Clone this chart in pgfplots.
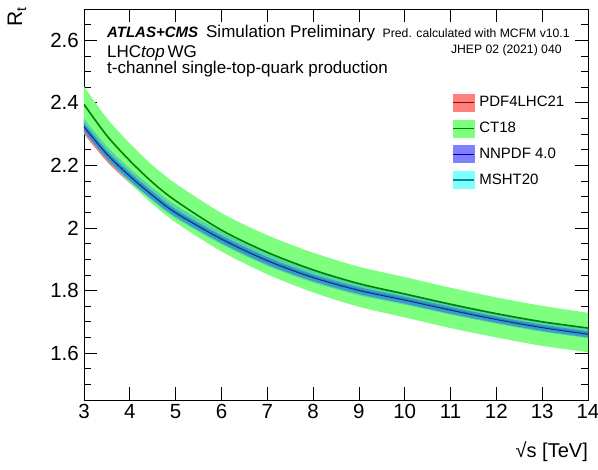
\documentclass[border=0pt]{standalone}
\usepackage{fontspec}
\setmainfont{Liberation Sans}
\usepackage{pgfplots}
\usepackage{pgfplotstable}
\usepgfplotslibrary{fillbetween}
\pgfplotsset{compat=1.18}

\definecolor{pdfFill}{HTML}{FF7F7F}
\definecolor{pdfLine}{HTML}{A00000}
\definecolor{ctFill}{HTML}{7FFF7F}
\definecolor{ctLine}{HTML}{008000}
\definecolor{nnFill}{HTML}{7F7FFF}
\definecolor{nnLine}{HTML}{0000A0}
\definecolor{msFill}{HTML}{7FFFFF}
\definecolor{msLine}{HTML}{009090}
\definecolor{msBand}{HTML}{30B8C0}
\definecolor{nnBand}{HTML}{2070E8}

\pgfplotstableread{
x c lo hi
3 2.325 2.300 2.350
3.5 2.237 2.212 2.262
4 2.167 2.143 2.191
4.5 2.105 2.081 2.129
5 2.050 2.026 2.074
6 1.966 1.943 1.989
7 1.897 1.874 1.920
8 1.843 1.821 1.865
9 1.802 1.780 1.824
10 1.771 1.750 1.792
11 1.739 1.718 1.760
12 1.709 1.689 1.729
13 1.683 1.664 1.702
14 1.662 1.643 1.681
}\pdftab

\pgfplotstableread{
x c lo hi
3 2.395 2.322 2.452
3.5 2.295 2.224 2.351
4 2.215 2.145 2.270
4.5 2.145 2.076 2.200
5 2.087 2.018 2.142
6 1.993 1.925 2.048
7 1.922 1.852 1.977
8 1.866 1.794 1.921
9 1.822 1.748 1.876
10 1.789 1.714 1.843
11 1.756 1.680 1.809
12 1.726 1.650 1.778
13 1.700 1.623 1.751
14 1.680 1.603 1.729
}\cttab

\pgfplotstableread{
x c lo hi
3 2.323 2.310 2.336
3.5 2.235 2.222 2.248
4 2.165 2.152 2.178
4.5 2.103 2.090 2.116
5 2.048 2.036 2.060
6 1.964 1.952 1.976
7 1.895 1.883 1.907
8 1.841 1.830 1.852
9 1.800 1.789 1.811
10 1.769 1.758 1.780
11 1.737 1.726 1.748
12 1.707 1.697 1.717
13 1.681 1.671 1.691
14 1.660 1.650 1.670
}\nntab

\pgfplotstableread{
x c lo hi
3 2.327 2.305 2.349
3.5 2.239 2.217 2.261
4 2.169 2.148 2.190
4.5 2.107 2.086 2.128
5 2.052 2.031 2.073
6 1.968 1.948 1.988
7 1.899 1.879 1.919
8 1.845 1.826 1.864
9 1.804 1.785 1.823
10 1.773 1.755 1.791
11 1.741 1.723 1.759
12 1.711 1.694 1.728
13 1.685 1.668 1.702
14 1.664 1.648 1.680
}\mstab

\begin{document}
\begin{tikzpicture}
\begin{axis}[
  scale only axis, width=504pt, height=391pt,
  xmin=3, xmax=14, ymin=1.45, ymax=2.7,
  xtick={3,4,5,6,7,8,9,10,11,12,13,14},
  ytick={1.6,1.8,2,2.2,2.4,2.6},
  minor ytick={1.45,1.5,1.55,1.65,1.7,1.75,1.85,1.9,1.95,2.05,2.1,2.15,2.25,2.3,2.35,2.45,2.5,2.55,2.65,2.7},
  tick align=inside,
  xtick pos=both, ytick pos=both,
  major tick length=13pt, minor tick length=7pt,
  every tick/.style={black, line width=0.7pt},
  axis line style={line width=0.8pt},
  /pgf/number format/assume math mode=true,
  ticklabel style={font=\fontsize{20.5}{24}\selectfont},
  yticklabel style={inner sep=0pt, anchor=east, xshift=-5pt},
  xticklabel style={inner sep=0pt, anchor=north, yshift=-4pt},
  xlabel={\fontsize{20}{24}\selectfont √s [TeV]},
  xlabel style={at={(axis description cs:1,-0.133)}, anchor=east, inner sep=0pt},
  ylabel={\fontsize{21}{24}\selectfont R\raisebox{-0.35ex}{\fontsize{14}{16}\selectfont t}},
  ylabel style={at={(axis description cs:-0.133,1.005)}, anchor=east, inner sep=0pt, rotate=0},
  legend style={at={(axis description cs:0.730,0.784)}, anchor=north west, draw=none, fill=none,
    inner sep=0pt, row sep=8.5pt, column sep=5pt, font=\fontsize{15}{18}\selectfont,
    nodes={inner sep=0pt}},
  legend cell align=left,
]
% PDF4LHC21 band
\addplot[name path=pdflo, draw=none, forget plot, smooth] table[x=x,y=lo]{\pdftab};
\addplot[name path=pdfhi, draw=none, forget plot, smooth] table[x=x,y=hi]{\pdftab};
\addplot[pdfFill, forget plot] fill between[of=pdflo and pdfhi];
% CT18 band
\addplot[name path=ctlo, draw=none, forget plot, smooth] table[x=x,y=lo]{\cttab};
\addplot[name path=cthi, draw=none, forget plot, smooth] table[x=x,y=hi]{\cttab};
\addplot[ctFill, forget plot] fill between[of=ctlo and cthi];
% MSHT20 band
\addplot[name path=mslo, draw=none, forget plot, smooth] table[x=x,y=lo]{\mstab};
\addplot[name path=mshi, draw=none, forget plot, smooth] table[x=x,y=hi]{\mstab};
\addplot[msBand, fill opacity=0.55, forget plot] fill between[of=mslo and mshi];
% NNPDF band
\addplot[name path=nnlo, draw=none, forget plot, smooth] table[x=x,y=lo]{\nntab};
\addplot[name path=nnhi, draw=none, forget plot, smooth] table[x=x,y=hi]{\nntab};
\addplot[nnBand, fill opacity=0.55, forget plot] fill between[of=nnlo and nnhi];
% central lines
\addplot[pdfLine, line width=0.6pt, smooth, opacity=0.4, forget plot] table[x=x,y=c]{\pdftab};
\addplot[msLine, line width=0.7pt, smooth, opacity=0.7, forget plot] table[x=x,y=c]{\mstab};
\addplot[nnLine, line width=0.8pt, smooth, opacity=0.8, forget plot] table[x=x,y=c]{\nntab};
\addplot[ctLine, line width=1.6pt, smooth, forget plot] table[x=x,y=c]{\cttab};

\addlegendimage{legend image code/.code={\fill[pdfFill] (0pt,-8.5pt) rectangle (21pt,8.5pt); \draw[pdfLine, line width=1.2pt] (0pt,0pt) -- (21pt,0pt);}}
\addlegendentry{PDF4LHC21}
\addlegendimage{legend image code/.code={\fill[ctFill] (0pt,-8.5pt) rectangle (21pt,8.5pt); \draw[ctLine, line width=1.2pt] (0pt,0pt) -- (21pt,0pt);}}
\addlegendentry{CT18}
\addlegendimage{legend image code/.code={\fill[nnFill] (0pt,-8.5pt) rectangle (21pt,8.5pt); \draw[nnLine, line width=1.2pt] (0pt,0pt) -- (21pt,0pt);}}
\addlegendentry{NNPDF 4.0}
\addlegendimage{legend image code/.code={\fill[msFill] (0pt,-8.5pt) rectangle (21pt,8.5pt); \draw[msLine, line width=1.2pt] (0pt,0pt) -- (21pt,0pt);}}
\addlegendentry{MSHT20}

\node[anchor=base west, inner sep=0pt] at (axis description cs:0.0456,0.928)
  {{\fontsize{15}{16}\selectfont\bfseries\itshape ATLAS+CMS}\hspace{8pt}{\fontsize{17}{18}\selectfont Simulation Preliminary}};
\node[anchor=base west, inner sep=0pt] at (axis description cs:0.0456,0.877)
  {\fontsize{17}{18}\selectfont LHC\textit{top}\,WG};
\node[anchor=base west, inner sep=0pt] at (axis description cs:0.0456,0.834)
  {\fontsize{17}{18}\selectfont t-channel single-top-quark production};
\node[anchor=base east, inner sep=0pt] at (axis description cs:0.964,0.928)
  {\fontsize{12.2}{14}\selectfont Pred. calculated with MCFM v10.1};
\node[anchor=base east, inner sep=0pt] at (axis description cs:0.948,0.887)
  {\fontsize{12.2}{14}\selectfont JHEP 02 (2021) 040};
\end{axis}
\pgfresetboundingbox
\path ([shift={(-84pt,-70pt)}]current axis.south west) rectangle ([shift={(10pt,9pt)}]current axis.north east);
\end{tikzpicture}
\end{document}
